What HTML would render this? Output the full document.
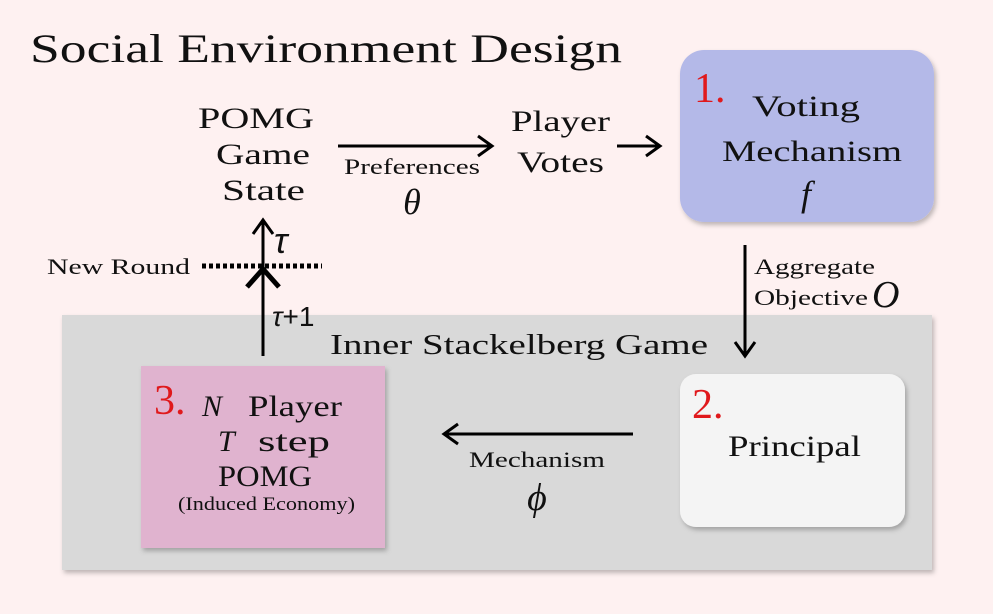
<!DOCTYPE html>
<html><head><meta charset="utf-8"><style>
body{margin:0;background:#fef1f1;}
svg{display:block;font-family:"Liberation Serif",serif;}
</style></head><body>
<svg width="993" height="614" viewBox="0 0 993 614" xmlns="http://www.w3.org/2000/svg">
<defs>
<filter id="sh" x="-10%" y="-10%" width="130%" height="130%"><feDropShadow dx="2" dy="3" stdDeviation="2.5" flood-color="#000" flood-opacity="0.25"/></filter>
</defs>
<rect width="993" height="614" fill="#fef1f1"/>
<text x="30" y="62" font-size="40" fill="#111" textLength="592" lengthAdjust="spacingAndGlyphs">Social Environment Design</text>
<rect x="62" y="315" width="870" height="255" fill="#d9d9d9" filter="url(#sh)"/>
<text x="330" y="354" font-size="29" fill="#111" textLength="378" lengthAdjust="spacingAndGlyphs">Inner Stackelberg Game</text>
<rect x="680" y="50" width="254" height="172" rx="24" fill="#b4b9e8" filter="url(#sh)"/>
<text x="694" y="102" font-size="42" fill="#e0191c">1.</text>
<text x="752" y="116" font-size="30" fill="#111" textLength="108" lengthAdjust="spacingAndGlyphs">Voting</text>
<text x="722" y="161" font-size="30" fill="#111" textLength="180" lengthAdjust="spacingAndGlyphs">Mechanism</text>
<text x="806" y="206" font-size="36" font-style="italic" text-anchor="middle" fill="#111">f</text>
<rect x="680" y="374" width="225" height="153" rx="16" fill="#f4f4f4" filter="url(#sh)"/>
<text x="692" y="418" font-size="42" fill="#e0191c">2.</text>
<text x="728" y="456" font-size="30" fill="#111" textLength="133" lengthAdjust="spacingAndGlyphs">Principal</text>
<rect x="141" y="366" width="244" height="182" fill="#e0b3cf" filter="url(#sh)"/>
<text x="154" y="414" font-size="42" fill="#e0191c">3.</text>
<text x="202" y="416" font-size="30" fill="#111" font-style="italic">N</text>
<text x="248" y="416" font-size="30" fill="#111" textLength="94" lengthAdjust="spacingAndGlyphs">Player</text>
<text x="218" y="451" font-size="30" fill="#111" font-style="italic">T</text>
<text x="258" y="451" font-size="30" fill="#111" textLength="72" lengthAdjust="spacingAndGlyphs">step</text>
<text x="218" y="486" font-size="30" fill="#111" textLength="94" lengthAdjust="spacingAndGlyphs">POMG</text>
<text x="178" y="510" font-size="19" fill="#111" textLength="177" lengthAdjust="spacingAndGlyphs">(Induced Economy)</text>
<g font-size="30" fill="#111">
<text x="198" y="128" textLength="116" lengthAdjust="spacingAndGlyphs">POMG</text>
<text x="216" y="164" textLength="94" lengthAdjust="spacingAndGlyphs">Game</text>
<text x="222" y="200" textLength="83" lengthAdjust="spacingAndGlyphs">State</text>
<text x="511" y="131" textLength="99" lengthAdjust="spacingAndGlyphs">Player</text>
<text x="517" y="172" textLength="87" lengthAdjust="spacingAndGlyphs">Votes</text>
</g>
<g stroke="#000" stroke-width="3" fill="none">
<line x1="338" y1="146" x2="492" y2="146"/><polyline points="478,136 492,146 478,156"/>
<line x1="617" y1="146" x2="660" y2="146"/><polyline points="646,136 660,146 646,156"/>
<line x1="745" y1="245" x2="745" y2="356"/><polyline points="735,342 745,356 755,342"/>
<line x1="633" y1="434" x2="444" y2="434"/><polyline points="458,424 444,434 458,444"/>
<line x1="263" y1="356" x2="263" y2="220"/><polyline points="253,234 263,220 273,234"/>
<polyline points="247,287 263,269 279,287" stroke-width="5"/>
<line x1="202" y1="266" x2="322" y2="266" stroke-width="5" stroke-dasharray="4,3"/>
</g>
<text x="344" y="174" font-size="22" fill="#111" textLength="136" lengthAdjust="spacingAndGlyphs">Preferences</text>
<text x="412" y="214" font-size="36" font-style="italic" text-anchor="middle" fill="#111">θ</text>
<text x="754" y="274" font-size="22" fill="#111" textLength="121" lengthAdjust="spacingAndGlyphs">Aggregate</text>
<text x="754" y="305" font-size="22" fill="#111" textLength="114" lengthAdjust="spacingAndGlyphs">Objective</text>
<text x="872" y="307" font-size="38" font-style="italic" fill="#111">O</text>
<text x="469" y="467" font-size="22" fill="#111" textLength="136" lengthAdjust="spacingAndGlyphs">Mechanism</text>
<text x="537" y="510" font-size="38" font-style="italic" text-anchor="middle" fill="#111">ϕ</text>
<text x="47" y="274" font-size="22" fill="#111" textLength="143" lengthAdjust="spacingAndGlyphs">New Round</text>
<text x="274" y="253" font-size="36" font-style="italic" fill="#111" font-family="Liberation Sans,sans-serif">τ</text>
<text x="272" y="326" font-size="28" fill="#111" font-family="Liberation Sans,sans-serif"><tspan font-style="italic">τ</tspan>+1</text>
</svg>
</body></html>
